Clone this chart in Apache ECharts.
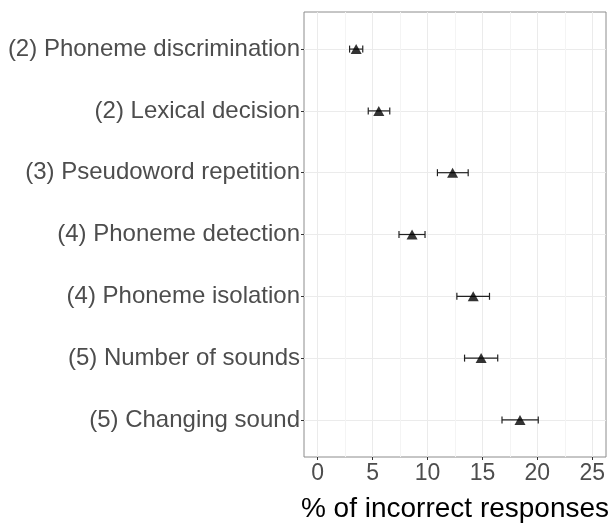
<!DOCTYPE html>
<html>
<head>
<meta charset="utf-8">
<script src="https://cdn.jsdelivr.net/npm/echarts@6/dist/echarts.min.js"></script>
<style>
  html, body { margin: 0; padding: 0; background: #fff; }
</style>
</head>
<body>
<div id="chart" style="width: 614px; height: 524px;"></div>
<script>
// tasks, top to bottom
const tasks = [
  "(2) Phoneme discrimination",
  "(2) Lexical decision",
  "(3) Pseudoword repetition",
  "(4) Phoneme detection",
  "(4) Phoneme isolation",
  "(5) Number of sounds",
  "(5) Changing sound"
];
const meanErr = [3.5, 5.56, 12.28, 8.59, 14.16, 14.88, 18.42];
const lowErr = [2.9, 4.6, 10.9, 7.4, 12.67, 13.37, 16.78];
const highErr = [4.1, 6.56, 13.7, 9.77, 15.64, 16.39, 20.08];
const xTicks = [0, 5, 10, 15, 20, 25];
const yTicks = [0, 1, 2, 3, 4, 5, 6];

const chart = echarts.init(document.getElementById("chart"));

const points = meanErr.map((v, i) => [v, i]);
const bars = lowErr.map((lo, i) => [lo, highErr[i], i]);

const option = {
  animation: false,
  grid: {
    left: 304, right: 8, top: 12, bottom: 67,
    outerBoundsMode: "none",
    containLabel: false,
    show: true, borderColor: "#8c8c8c", borderWidth: 1,
    backgroundColor: "transparent"
  },
  xAxis: [
    {
      // grid lines every 2.5 (major at multiples of 5)
      type: "value", min: -1.25, max: 26.25, interval: 1.25,
      axisLine: { show: false }, axisTick: { show: false },
      axisLabel: { show: false },
      splitLine: {
        show: true,
        lineStyle: {
          width: 1,
          color: ["transparent", "#ebebeb", "transparent", "#f4f4f4"]
        }
      }
    },
    {
      type: "value", min: -1.25, max: 26.25, position: "bottom",
      axisLine: { show: false, onZero: false },
      axisTick: { show: true, length: 3, customValues: xTicks, lineStyle: { color: "#333" } },
      axisLabel: {
        customValues: xTicks, margin: 5,
        fontFamily: "Liberation Sans", fontSize: 23, color: "#4d4d4d"
      },
      splitLine: { show: false },
      name: "% of incorrect responses", nameLocation: "middle", nameGap: 38,
      nameTextStyle: { fontFamily: "Liberation Sans", fontSize: 28, color: "#000" }
    }
  ],
  yAxis: {
    type: "value", inverse: true, min: -0.6, max: 6.6,
    axisLine: { show: false, onZero: false },
    axisTick: { show: true, length: 3, customValues: yTicks, lineStyle: { color: "#333" } },
    axisLabel: {
      customValues: yTicks, margin: 4,
      fontFamily: "Liberation Sans", fontSize: 24, color: "#4d4d4d",
      formatter: v => tasks[Math.round(v)] || ""
    },
    splitLine: { show: true, lineStyle: { color: "#ebebeb", width: 1 } }
  },
  series: [
    {
      type: "custom",
      xAxisIndex: 0,
      data: bars,
      renderItem: function (params, api) {
        const a = api.coord([api.value(0), api.value(2)]);
        const b = api.coord([api.value(1), api.value(2)]);
        const h = 3.5;
        const st = { stroke: "#222", lineWidth: 1.2 };
        return {
          type: "group",
          children: [
            { type: "line", shape: { x1: a[0], y1: a[1], x2: b[0], y2: b[1] }, style: st },
            { type: "line", shape: { x1: a[0], y1: a[1] - h, x2: a[0], y2: a[1] + h }, style: st },
            { type: "line", shape: { x1: b[0], y1: b[1] - h, x2: b[0], y2: b[1] + h }, style: st }
          ]
        };
      },
      z: 2
    },
    {
      type: "scatter",
      xAxisIndex: 0,
      data: points,
      symbol: "triangle",
      symbolSize: [11, 10],
      itemStyle: { color: "#000" },
      z: 3
    }
  ]
};

chart.setOption(option);
</script>
</body>
</html>
